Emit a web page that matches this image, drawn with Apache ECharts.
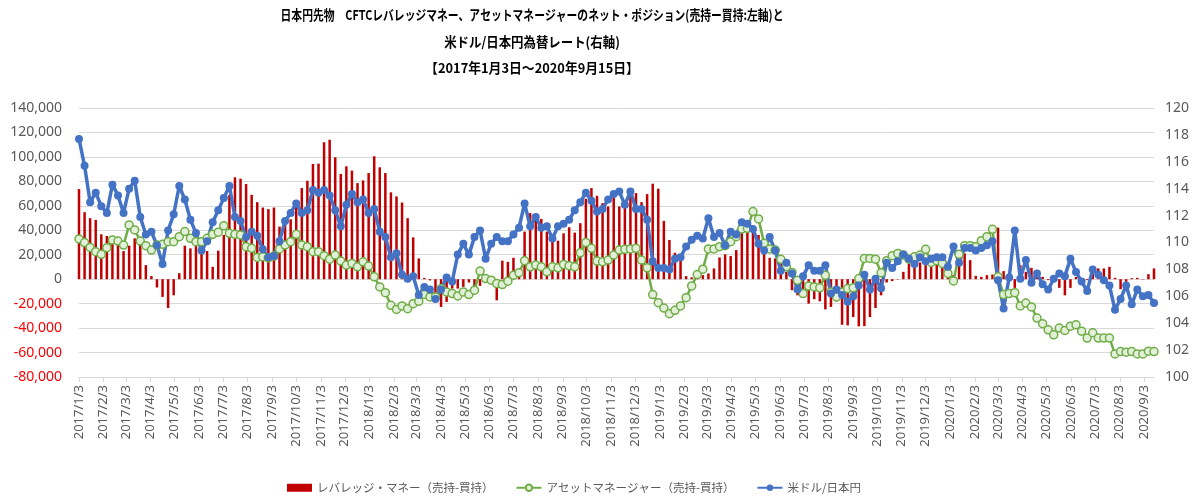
<!DOCTYPE html>
<html>
<head>
<meta charset="utf-8">
<script src="https://cdn.jsdelivr.net/npm/echarts/dist/echarts.min.js"></script>
<style>
  html, body { margin: 0; padding: 0; background: #fff; }
  #chart { width: 1200px; height: 497px; }
</style>
</head>
<body>
<div id="chart"></div>
<script>
// 週次データ 2017/1/3 ～ 2020/9/15 (毎週火曜)
const startDate = Date.UTC(2017, 0, 3)
const weekCount = 194

// レバレッジ・マネー（売持-買持）
const leveraged = [
  73700, 54800, 49900, 48500, 36700, 35300, 32600, 31500, 23000, 27400,
  33400, 30700, 11500, 2500, -6800, -14500, -23600, -13200, 4900, 27400,
  25200, 27900, 23800, 23000, 10100, 23300, 36200, 69000, 83300, 82200,
  77800, 69000, 63000, 58600, 57300, 58600, 43000, 48500, 49000, 60800,
  74500, 80500, 94200, 94500, 112000, 114000, 99700, 86000, 92300, 88800,
  78600, 80800, 86800, 100500, 91500, 86800, 71000, 67700, 62700, 49900,
  34200, 17000, 1000, -1000, -18600, -22700, -18600, -7700, -7700, -6300,
  -2700, -6300, -5500, 500, -2200, -17300, 15100, 14200, 17500, 8200,
  38900, 54000, 52600, 49300, 38900, 30700, 31500, 37500, 42500, 38100,
  45800, 65800, 74500, 68200, 62200, 59500, 67100, 59500, 64100, 73200,
  70400, 63000, 69600, 78100, 74000, 47700, 32100, 21600, 15100, 2500,
  1500, 3800, 3300, 4700, 8800, 17800, 20300, 18900, 23800, 41600,
  43000, 38900, 36200, 25200, 17500, 17000, 14800, 6000, -9000, -13200,
  -10400, -20000, -16400, -18100, -24700, -22700, -18100, -37300, -37800, -31000,
  -38600, -38400, -31000, -23600, -13200, -2700, -1600, -300, 6000, 12900,
  12900, 13700, 11500, 11000, 12900, 11000, 3300, 3300, 19700, 21100,
  15600, 2700, 1900, 3300, 3800, 42200, 6600, 1900, -7100, 11500,
  6000, 9300, 3300, 1900, -800, 500, -7100, -13200, -7100, 1900,
  500, -800, 4700, 8800, 8800, 10100, 1100, -8200, -2200, 800,
  1100, -300, 4100, 8800
]

// アセットマネージャー（売持-買持）
const assetManager = [
  32900, 29900, 26000, 22500, 20300, 25800, 32100, 31200, 27900, 44400,
  40300, 31200, 27400, 23800, 27900, 28500, 30700, 30700, 34800, 38900,
  33400, 30700, 30700, 33400, 36700, 38400, 43800, 37500, 36700, 36200,
  26600, 25200, 17800, 18400, 17500, 18900, 24700, 27900, 30700, 36700,
  27900, 26600, 22500, 22500, 19200, 16400, 19700, 14800, 11500, 12900,
  10100, 14200, 10700, 1900, -6300, -11000, -21400, -24700, -21900, -24100,
  -20000, -18100, -12600, -14500, -14500, -7700, -10400, -11800, -13700, -10400,
  -12600, -9000, 6600, 500, -800, -3600, -4400, -1600, 3300, 5200,
  15100, 10100, 11500, 10100, 6000, 10100, 9300, 12100, 11000, 10100,
  21600, 30100, 25200, 14800, 14200, 15600, 19700, 23800, 24400, 24700,
  25200, 15600, 9300, -12600, -19200, -23600, -28200, -25500, -21900, -15100,
  -5500, 3800, 8200, 24700, 24700, 26600, 27400, 30700, 34800, 41100,
  41600, 55300, 49300, 29300, 24700, 23800, 16200, 10100, 5500, -800,
  -11800, -5500, -6300, -7100, 3300, -10400, -14500, -10400, -7700, -7100,
  500, 17000, 17000, 16400, 5200, 15100, 19200, 21100, 19700, 16400,
  18400, 19700, 24400, 13700, 15100, 12900, 4700, -1400, 20300, 27400,
  27400, 26600, 31500, 34800, 40800, 1900, -12600, -11800, -11000, -21900,
  -19500, -22700, -31800, -36400, -41400, -45500, -40000, -41900, -38400, -37300,
  -42500, -48200, -43800, -48200, -48200, -48200, -61100, -59200, -59700, -59200,
  -61100, -61100, -58900, -59200
]

// 米ドル/日本円
const usdJpy = [
  117.7, 115.7, 113.0, 113.7, 112.7, 112.2, 114.3, 113.5, 112.2, 114.0,
  114.6, 111.9, 110.6, 110.8, 109.8, 108.4, 110.9, 112.1, 114.2, 113.2,
  111.7, 110.7, 109.4, 110.1, 111.5, 112.4, 113.3, 114.2, 111.9, 111.6,
  110.4, 110.8, 110.5, 109.5, 108.9, 109.0, 110.1, 111.6, 112.2, 112.9,
  112.2, 112.4, 113.9, 113.7, 113.9, 113.5, 112.4, 111.2, 112.8, 113.6,
  113.0, 113.2, 112.2, 112.5, 110.8, 110.4, 108.9, 109.2, 107.6, 107.3,
  107.5, 106.1, 106.7, 106.5, 105.8, 106.5, 107.4, 107.1, 109.1, 109.9,
  109.1, 110.4, 110.9, 108.8, 109.9, 110.4, 110.1, 110.1, 110.6, 111.1,
  112.9, 111.2, 111.9, 111.1, 111.2, 110.3, 111.2, 111.4, 111.7, 112.4,
  113.0, 113.7, 113.1, 112.3, 112.5, 113.2, 113.6, 113.8, 112.8, 113.8,
  112.5, 112.5, 111.7, 108.6, 108.1, 108.1, 108.0, 108.8, 108.9, 109.7,
  110.2, 110.5, 110.3, 111.8, 110.4, 110.7, 109.8, 110.8, 110.6, 111.5,
  111.4, 111.0, 109.9, 109.4, 110.4, 109.4, 107.9, 108.5, 107.7, 106.5,
  107.5, 108.3, 107.9, 107.9, 108.3, 106.2, 106.5, 106.1, 105.6, 106.0,
  106.8, 107.6, 106.5, 107.3, 106.6, 108.5, 108.1, 108.6, 109.1, 108.8,
  108.4, 108.9, 108.6, 108.8, 108.9, 108.9, 108.2, 109.7, 108.5, 109.6,
  109.6, 109.4, 109.6, 109.8, 110.1, 107.2, 105.1, 107.4, 110.9, 107.3,
  108.7, 107.0, 107.7, 106.9, 106.5, 107.3, 107.7, 107.5, 108.8, 107.8,
  107.1, 106.4, 108.0, 107.6, 107.2, 106.8, 105.0, 105.8, 106.8, 105.4,
  106.5, 106.0, 106.1, 105.5
]

const leftTicks = [-80000, 140000, 20000]   // min, max, interval
const rightTicks = [100, 120, 2]

const titleLines = [
  '日本円先物　CFTCレバレッジマネー、アセットマネージャーのネット・ポジション(売持ー買持:左軸)と',
  '米ドル/日本円為替レート(右軸)',
  '【2017年1月3日～2020年9月15日】'
]
const seriesNames = ['レバレッジ・マネー（売持-買持）', 'アセットマネージャー（売持-買持）', '米ドル/日本円']

const DAY = 86400000
const dayOf = (y, m, d) => Math.round((Date.UTC(y, m - 1, d) - startDate) / DAY)
const lastDay = (weekCount - 1) * 7

// 月次の目盛 (毎月3日)
const monthTicks = []
for (let y = 2017; y <= 2020; y++) {
  for (let m = 1; m <= 12; m++) {
    const d = dayOf(y, m, 3)
    if (d >= 0 && d <= lastDay) monthTicks.push(d)
  }
}
const dayLabel = v => {
  const dt = new Date(startDate + v * DAY)
  return dt.getUTCFullYear() + '/' + (dt.getUTCMonth() + 1) + '/' + dt.getUTCDate()
}

const weekDays = leveraged.map((_, i) => i * 7)
const pair = arr => arr.map((v, i) => [weekDays[i], v])

const chart = echarts.init(document.getElementById('chart'))

const titleScale = [0.8, 0.92, 0.95]
const titleY = [15, 41.5, 68]

chart.setOption({
  animation: false,
  textStyle: {fontFamily: '"Noto Sans", "Noto Sans CJK JP", sans-serif'},
  graphic: titleLines.map((t, i) => ({
    type: 'text',
    x: 532,
    y: titleY[i],
    scaleX: titleScale[i],
    style: {
      text: t,
      font: 'bold 13.5px "Noto Sans CJK JP", sans-serif',
      fill: '#000000',
      align: 'center',
      verticalAlign: 'middle',
      textAlign: 'center',
      textVerticalAlign: 'middle'
    }
  })),
  legend: {
    top: 477,
    left: 282,
    itemWidth: 25,
    itemHeight: 8,
    itemGap: 22,
    textStyle: {color: '#595959', fontSize: 11.5, fontFamily: '"Noto Sans CJK JP", sans-serif'},
    data: [
      {name: seriesNames[0], icon: 'rect'},
      seriesNames[1],
      seriesNames[2]
    ]
  },
  grid: {left: 79, right: 46, top: 108, bottom: 120},
  xAxis: {
    type: 'value',
    min: 0,
    max: lastDay,
    axisLine: {show: true, onZero: false, lineStyle: {color: '#D9D9D9'}},
    axisTick: {show: true, customValues: monthTicks, length: 5, lineStyle: {color: '#D9D9D9'}},
    axisLabel: {
      customValues: monthTicks,
      rotate: 90,
      margin: 8,
      color: '#595959',
      fontSize: 13,
      formatter: v => dayLabel(v)
    },
    splitLine: {show: false}
  },
  yAxis: [
    {
      type: 'value',
      min: leftTicks[0],
      max: leftTicks[1],
      interval: leftTicks[2],
      axisLine: {show: false},
      axisTick: {show: false},
      axisLabel: {
        margin: 17,
        fontSize: 14,
        color: v => (v < 0 ? '#FF0000' : '#595959'),
        formatter: v => v.toLocaleString('en-US')
      },
      splitLine: {lineStyle: {color: '#D9D9D9'}}
    },
    {
      type: 'value',
      min: rightTicks[0],
      max: rightTicks[1],
      interval: rightTicks[2],
      axisLine: {show: false},
      axisTick: {show: false},
      axisLabel: {margin: 11, fontSize: 14, color: '#595959'},
      splitLine: {show: false}
    }
  ],
  series: [
    {
      name: seriesNames[0],
      type: 'bar',
      yAxisIndex: 0,
      barWidth: 2.5,
      itemStyle: {color: '#C00000'},
      data: pair(leveraged)
    },
    {
      name: seriesNames[1],
      type: 'line',
      yAxisIndex: 0,
      symbol: 'circle',
      symbolSize: 8,
      lineStyle: {color: '#70AD47', width: 2.5},
      itemStyle: {color: '#E2F0D9', borderColor: '#70AD47', borderWidth: 1.5},
      data: pair(assetManager)
    },
    {
      name: seriesNames[2],
      type: 'line',
      yAxisIndex: 1,
      symbol: 'circle',
      symbolSize: 8,
      lineStyle: {color: '#4472C4', width: 3.5},
      itemStyle: {color: '#4472C4'},
      data: pair(usdJpy)
    }
  ]
})
</script>
</body>
</html>
